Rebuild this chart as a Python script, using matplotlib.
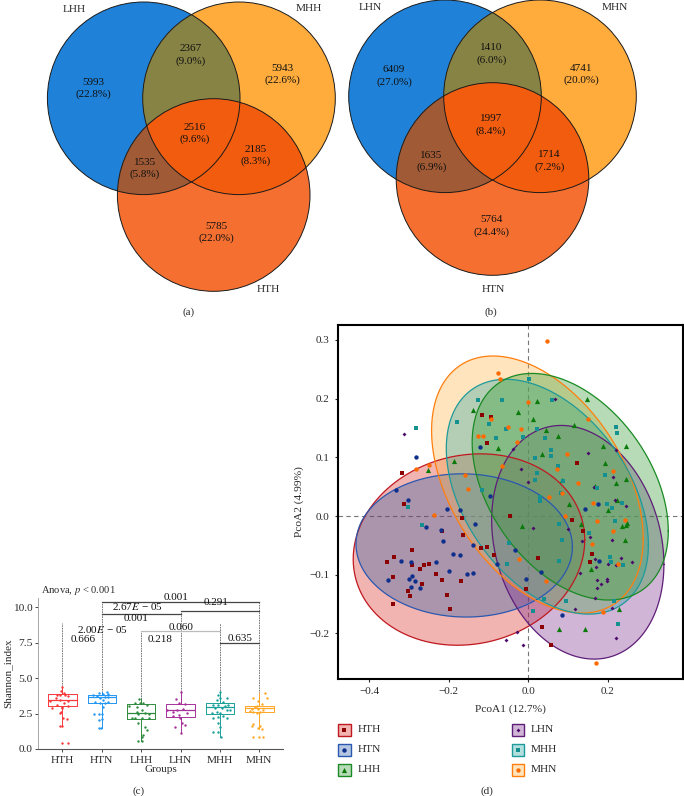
import numpy as np
import matplotlib
matplotlib.use('Agg')
import matplotlib.pyplot as plt
from matplotlib.patches import Circle, Rectangle

plt.rcParams['font.family'] = ['Liberation Serif', 'DejaVu Serif']
plt.rcParams['mathtext.fontset'] = 'stix'

TEXT = '#2b2b2b'

# ---- venn data
venn_a_sets = ['LHH', 'MHH', 'HTH']
venn_a_vals = ['5993\n(22.8%)', '2367\n(9.0%)', '5943\n(22.6%)', '2516\n(9.6%)',
               '2185\n(8.3%)', '1535\n(5.8%)', '5785\n(22.0%)']
venn_b_sets = ['LHN', 'MHN', 'HTN']
venn_b_vals = ['6409\n(27.0%)', '1410\n(6.0%)', '4741\n(20.0%)', '1997\n(8.4%)',
               '1714\n(7.2%)', '1635\n(6.9%)', '5764\n(24.4%)']

# ---- shannon data
groups = ['HTH', 'HTN', 'LHH', 'LHN', 'MHH', 'MHN']
box_q1 = [3.01, 3.22, 2.09, 2.28, 2.49, 2.61]
box_med = [3.46, 3.70, 2.56, 2.73, 2.96, 2.89]
box_q3 = [3.86, 3.79, 3.15, 3.20, 3.22, 3.04]
box_lo = [1.65, 1.51, 0.56, 1.15, 0.87, 1.39]
box_hi = [4.35, 4.00, 3.55, 4.05, 4.00, 3.93]

sh_off = {
    'HTH': [0, -.03, .05, -.14, -.06, .08, -.16, .15, -.06, -.31, .15, .04, -.02, -.14, .14, -.27, 0, -.06, -.03, .11, .03, -.06, -.01, 0, .15],
    'HTN': [.13, -.06, .04, .17, -.21, -.13, .08, -.04, .17, .04, -.17, -.04, .08, .17, .02, -.08, 0, -.19, 0, -.06, -.08, -.02],
    'LHH': [-.05, .06, -.03, -.15, .14, -.32, -.11, .02, -.11, -.07, .10, .19, -.24, -.15, .02, .19, -.07, .10, .14, .06, .02, -.09, .02],
    'LHN': [0, -.11, -.05, .12, -.35, -.18, -.09, .06, .16, -.03, -.19, -.01, .03, .12, -.14, .01],
    'MHH': [0, -.04, 0, .17, -.08, .08, -.17, -.04, .13, .21, -.13, .04, .17, -.08, .25, 0, -.21, .08, -.04, .17, -.17, -.04, 0, -.17, -.04, .02],
    'MHN': [.14, -.15, .19, -.03, -.07, .06, -.11, -.19, -.03, .02, -.15, .10, -.24, -.07, -.15, -.19, .02, -.03, .06, -.17, 0, .10],
}
sh_val = {
    'HTH': [4.35, 4.12, 3.93, 3.81, 3.81, 3.81, 3.58, 3.74, 3.46, 3.39, 3.39, 3.27, 2.99, 3.11, 3.06, 2.92, 2.87, 2.52, 2.64, 2.12, 2.16, 1.65, 1.65, .45, .45],
    'HTN': [4.0, 3.93, 3.88, 3.88, 3.81, 3.74, 3.69, 3.62, 3.65, 3.46, 3.34, 3.27, 3.27, 3.29, 2.99, 2.47, 2.45, 2.47, 2.12, 2.05, 1.51, 1.51],
    'LHH': [3.55, 3.27, 3.22, 3.22, 3.11, 3.04, 2.94, 2.75, 2.64, 2.47, 2.56, 2.47, 2.16, 2.16, 2.16, 2.21, 1.81, 1.58, 1.34, .99, .87, .56, .56],
    'LHN': [4.05, 3.51, 3.22, 3.15, 2.75, 2.64, 2.75, 2.80, 2.52, 2.40, 2.33, 2.16, 1.81, 1.69, 1.58, 1.15],
    'MHH': [4.0, 3.81, 3.58, 3.62, 3.46, 3.34, 3.11, 3.11, 3.04, 3.11, 2.87, 2.87, 2.75, 2.64, 2.75, 2.52, 2.56, 2.35, 2.28, 2.16, 2.16, 1.81, 1.58, 1.18, 1.18, .87],
    'MHN': [3.93, 3.58, 3.58, 3.41, 3.04, 3.18, 2.99, 2.80, 2.80, 2.64, 2.64, 2.75, 2.71, 2.52, 1.76, 1.65, 1.65, 1.46, 1.39, .87, .87, .87],
}

# bracket: from group, to group, height, colour
bracket_from = [1, 1, 3, 2, 4]
bracket_to = [5, 3, 5, 4, 5]
bracket_y = [10.35, 9.55, 9.74, 8.30, 7.46]
bracket_col = ['#444444', '#444444', '#444444', '#bbbbbb', '#444444']
p_labels = ['0.001', r'2.67$\mathit{E}$ − 05', '0.291', '0.001', '0.060',
            r'2.00$\mathit{E}$ − 05', '0.218', '0.666', '0.635']
p_x = [2.89, 1.91, 3.91, 1.88, 3.01, 1.02, 2.49, 0.54, 4.51]
p_y = [10.70, 10.09, 10.35, 9.22, 8.58, 8.42, 7.76, 7.76, 7.81]

# ---- pcoa data
pc_x = {
    'HTH': [-.116, -.093, -.103, -.318, .123, -.313, -.046, -.167, .110, .138, -.218, -.163, -.292, -.118, -.104, -.085, .024, -.354, -.337, -.292, -.261, -.250, -.272, -.233, -.340, -.218, -.268, -.170, -.303, -.297, -.203, -.339, -.197, -.006, .160, .155, .034, .056],
    'HTN': [-.283, -.121, -.332, -.303, -.096, -.205, -.171, -.133, -.256, -.220, -.215, -.138, .142, .175, -.189, -.172, -.319, -.295, -.232, -.079, -.034, -.198, -.292, -.153, -.138, -.300, -.285, -.353, -.294, -.271, .032, -.005, .177, .086],
    'LHH': [-.139, .023, .148, -.025, .012, -.076, .044, .076, .116, .189, .245, .035, -.186, -.252, .194, .084, .221, .245, .167, .222, .103, .200, .248, .236, .246, .243, -.015, .132, .158, .228, .078, .143],
    'LHN': [-.312, .066, -.039, -.017, 0, .150, .212, .165, .220, .245, .219, .012, .101, .135, .155, .211, .168, .233, .260, .201, .170, .220, .131, .173, .199, .199, .182, .173, .167, .118, .210, -.055, -.028, -.014, .220],
    'MHH': [.003, -.127, -.066, .059, -.178, -.099, -.056, -.081, -.013, .021, .043, .057, .058, .016, -.281, .220, .222, .075, .021, .018, .088, .193, .174, -.117, .082, .029, .029, -.303, .197, .210, .236, .217, -.267, .078, .153, .084, -.048, .078, -.054, .205, .209, .239, .039, .096, .215, .013, .225],
    'MHN': [.047, -.076, -.070, 0, -.094, -.052, -.018, -.127, -.114, .149, -.029, .098, -.283, -.250, -.065, .073, -.158, -.152, .124, .053, .084, .214, .163, -.237, .092, .172, .243, .213, .159, -.023, .044, .225, .189, .170],
}
pc_y = {
    'HTH': [.172, .169, .124, .073, .091, .020, 0, -.003, -.007, -.026, -.025, -.033, -.058, -.054, -.052, -.067, -.072, -.078, -.070, -.084, -.083, -.082, -.090, -.098, -.103, -.109, -.116, -.110, -.127, -.136, -.134, -.149, -.158, -.125, -.064, -.078, -.189, -.219],
    'HTN': [.100, .118, .044, .028, .035, .012, .010, -.014, -.018, -.023, -.043, -.049, .012, .021, -.065, -.066, -.077, -.078, -.078, -.081, -.058, -.093, -.102, -.099, -.097, -.107, -.111, -.109, -.120, -.123, -.096, -.108, -.076, -.168],
    'LHH': [.181, .196, .199, .177, .166, .116, .147, .136, .155, .119, .119, .105, .094, .078, .091, .062, .057, .063, .052, .028, .020, .010, -.011, -.017, -.015, -.041, -.017, -.014, -.090, -.158, -.193, -.193],
    'LHN': [.140, .200, .114, .081, .058, .107, .066, .049, .112, .018, .027, -.020, -.022, -.043, -.035, -.040, -.073, -.072, -.078, -.082, -.087, -.083, -.097, -.109, -.108, -.111, -.116, -.122, -.139, -.158, -.156, -.211, -.197, -.220, -.207],
    'MHH': [.233, .198, .197, .198, .161, .157, .149, .133, .135, .148, .133, .113, .102, .099, .150, .152, .141, .086, .073, .062, .060, .070, .047, .045, .039, .032, .026, .015, .020, .014, .022, -.009, -.015, -.014, -.029, -.041, -.045, -.076, -.081, -.070, -.078, -.083, -.141, -.144, -.144, -.161, -.183],
    'MHN': [.299, .243, .233, .195, .166, .152, .149, .136, .136, .165, .126, .106, .080, .087, .086, .080, .070, .046, .057, .032, .039, .077, .022, .002, 0, -.008, -.006, -.026, -.047, -.073, -.111, -.082, -.164, -.250],
}

# ellipse: centre, half extents, correlation
ell_cx = {'HTH': -.149, 'HTN': -.161, 'LHH': .1055, 'LHN': .1245, 'MHH': .048, 'MHN': .023}
ell_cy = {'HTH': -.057, 'HTN': -.050, 'LHH': .050, 'LHN': -.0446, 'MHH': .033, 'MHN': .0537}
ell_hx = {'HTH': .291, 'HTN': .272, 'LHH': .2465, 'LHN': .2165, 'MHH': .254, 'MHN': .266}
ell_hy = {'HTH': .163, 'HTN': .122, 'LHH': .193, 'LHN': .199, 'MHH': .200, 'MHN': .219}
ell_rho = {'HTH': .10, 'HTN': -.02, 'LHH': -.39, 'LHN': -.19, 'MHH': -.41, 'MHN': -.42}

# ---- styles
box_cols = {'HTH': '#f8383a', 'HTN': '#2196f3', 'LHH': '#2e8b3e', 'LHN': '#a6309a', 'MHH': '#1aa098', 'MHN': '#ffa726'}
edge_cols = {'HTH': '#c01820', 'HTN': '#2a58b0', 'LHH': '#1a8a24', 'LHN': '#5e1e78', 'MHH': '#1e9a9a', 'MHN': '#ff7f0e'}
fill_cols = {'HTH': '#d7281e', 'HTN': '#2a5caa', 'LHH': '#2e9a2e', 'LHN': '#7b2d8e', 'MHH': '#2aa5a5', 'MHN': '#ffb347'}
dot_cols = {'HTH': '#8b0000', 'HTN': '#0e2f8b', 'LHH': '#0a7a0a', 'LHN': '#4b0b6b', 'MHH': '#159090', 'MHN': '#ff6a00'}
markers = {'HTH': 's', 'HTN': 'o', 'LHH': '^', 'LHN': 'D', 'MHH': 's', 'MHN': 'o'}
msize = {'HTH': 9, 'HTN': 10, 'LHH': 14, 'LHN': 4, 'MHH': 9, 'MHN': 10}

W, H = 684, 796
fig = plt.figure(figsize=(W / 100, H / 100), dpi=100)


def px_axes(left, right, top, bottom):
    return fig.add_axes([left / W, 1 - bottom / H, (right - left) / W, (bottom - top) / H])


# overlay in pixels, for venns, captions and legend keys
ov = fig.add_axes([0, 0, 1, 1])
ov.set_xlim(0, W)
ov.set_ylim(H, 0)
ov.axis('off')


def venn(c1, c2, c3, r, names, vals, val_pos, name_pos):
    colors = ['#1f82d8', '#ffac3c', '#f57030']
    circles = [c1, c2, c3]
    for c, col in zip(circles, colors):
        ov.add_patch(Circle(c, r, fc=col, ec='none'))
    for a, b, col in [(0, 1, '#878344'), (0, 2, '#a05a35'), (1, 2, '#f25c0e')]:
        clip = Circle(circles[a], r, transform=ov.transData)
        p = Circle(circles[b], r, fc=col, ec='none')
        ov.add_patch(p)
        p.set_clip_path(clip)
    for c in circles:
        ov.add_patch(Circle(c, r, fc='none', ec='#1a1a1a', lw=0.7))
    for v, p in zip(vals, val_pos):
        ov.text(p[0], p[1], v, ha='center', va='center', fontsize=8, color='#111111', linespacing=1.35)
    for n, p in zip(names, name_pos):
        ov.text(p[0], p[1], n, ha='center', va='center', fontsize=8.2, color=TEXT)


venn((143.7, 98.3), (239, 98.3), (213.7, 195), 96.3, venn_a_sets, venn_a_vals,
     [(93.7, 88.5), (190.3, 55), (282.3, 74.5), (194.3, 133.3), (255.7, 155.7), (144.7, 168.3), (216.7, 232.7)],
     [(74.7, 9.7), (308.7, 8.3), (268.3, 289.3)])
venn((445, 96.3), (540, 96.3), (492.5, 179), 96.3, venn_b_sets, venn_b_vals,
     [(394, 76), (491.3, 54), (581.3, 74.3), (491, 125), (549.3, 161), (431.3, 161.7), (491.3, 226)],
     [(370, 8), (614.7, 8), (493.3, 289.3)])

for s, x, y in [('(a)', 189, 311.7), ('(b)', 490.7, 311.7), ('(c)', 139, 790.7), ('(d)', 487, 790.7)]:
    ov.text(x, y, s, ha='center', va='center', fontsize=8, color=TEXT)

# ---- panel c
ax = px_axes(38, 283, 598, 749)
ax.set_xlim(-0.617, 5.6)
ax.set_ylim(0, 10.66)
ax.patch.set_alpha(0)
stats = []
for i, g in enumerate(groups):
    stats.append(dict(med=box_med[i], q1=box_q1[i], q3=box_q3[i], whislo=box_lo[i], whishi=box_hi[i], fliers=[]))
    st = ax.bxp([stats[i]], positions=[i], widths=0.72, showcaps=False, showfliers=False,
                boxprops=dict(color=box_cols[g], lw=0.7), medianprops=dict(color=box_cols[g], lw=0.9),
                whiskerprops=dict(color=box_cols[g], lw=0.7), manage_ticks=False)
    ax.scatter(i + np.array(sh_off[g]), sh_val[g], s=3, color=box_cols[g], lw=0, zorder=3)

# dashed drops from the brackets
drop_top = [8.9, 10.35, 8.30, 9.74, 8.9, 10.35]
for i in range(6):
    ax.plot([i, i], [box_q3[i], drop_top[i]], color='#666666', lw=0.6, ls=(0, (2, 1)), zorder=1)
for a, b, y, c in zip(bracket_from, bracket_to, bracket_y, bracket_col):
    ax.plot([a, b], [y, y], color=c, lw=0.9, clip_on=False)
for s, x, y in zip(p_labels, p_x, p_y):
    ax.text(x, y, s, ha='center', va='center', fontsize=8, color='#111111', clip_on=False, zorder=5)
ax.text(-0.55, 11.2, 'Anova, $\\mathit{p}$ < 0.001', ha='left', va='center', fontsize=7.6, color=TEXT)

ax.set_xticks(range(6))
ax.set_xticklabels(groups)
ax.set_yticks([0, 2.5, 5, 7.5, 10])
ax.set_yticklabels(['0.0', '2.5', '5.0', '7.5', '10.0'])
ax.tick_params(labelsize=8.2, length=2, width=0.6, pad=2, colors=TEXT)
ax.tick_params(axis='x', pad=3)
ax.set_xlabel('Groups', fontsize=8, color=TEXT, labelpad=0)
ax.set_ylabel('Shannon_index', fontsize=8, color=TEXT, labelpad=0)
for s in ['top', 'right']:
    ax.spines[s].set_visible(False)
ax.spines['left'].set_color('#999999')
ax.spines['left'].set_linewidth(0.6)
ax.spines['bottom'].set_color('#555555')
ax.spines['bottom'].set_linewidth(0.8)

# ---- panel d
bx = px_axes(337.7, 683, 324.7, 678.7)
bx.set_xlim(-0.479, 0.389)
bx.set_ylim(-0.277, 0.326)
bx.axhline(0, color='#777777', lw=0.8, ls=(0, (4, 3)), zorder=1)
bx.axvline(0, color='#777777', lw=0.8, ls=(0, (4, 3)), zorder=1)
t = np.linspace(0, 2 * np.pi, 300)
# fills stack in this order, green ends up on top
for z, g in enumerate(['HTH', 'HTN', 'LHN', 'MHN', 'MHH', 'LHH']):
    r = ell_rho[g]
    ex = ell_cx[g] + ell_hx[g] * np.cos(t)
    ey = ell_cy[g] + ell_hy[g] * (r * np.cos(t) + np.sqrt(1 - r * r) * np.sin(t))
    bx.fill(ex, ey, color=fill_cols[g], alpha=0.35, lw=0, zorder=2 + z * 0.01)
    bx.plot(ex, ey, color=edge_cols[g], lw=0.9, zorder=3)
for g in groups:
    bx.scatter(pc_x[g], pc_y[g], s=msize[g], marker=markers[g], color=dot_cols[g], lw=0, zorder=4)
bx.set_xticks([-0.4, -0.2, 0, 0.2])
bx.set_xticklabels(['−0.4', '−0.2', '0.0', '0.2'])
bx.set_yticks([-0.2, -0.1, 0, 0.1, 0.2, 0.3])
bx.set_yticklabels(['−0.2', '−0.1', '0.0', '0.1', '0.2', '0.3'])
bx.tick_params(labelsize=8, length=2, width=0.8, pad=4, colors=TEXT)
bx.set_xlabel('PcoA1 (12.7%)', fontsize=8.2, color=TEXT, labelpad=6)
bx.set_ylabel('PcoA2 (4.99%)', fontsize=8.2, color=TEXT, labelpad=4)
for s in bx.spines.values():
    s.set_linewidth(1.5)
    s.set_color('black')

# legend keys
rows = [729.7, 749.7, 769.7, 729.7, 749.7, 769.7]
cols = [344.3, 344.3, 344.3, 517.7, 517.7, 517.7]
text_x = [358, 358, 358, 531, 531, 531]
for g, ky, kx, tx in zip(groups, rows, cols, text_x):
    ov.add_patch(Rectangle((kx - 6.2, ky - 6.2), 12.4, 12.4, fc=fill_cols[g], alpha=0.35, ec='none'))
    ov.add_patch(Rectangle((kx - 6.2, ky - 6.2), 12.4, 12.4, fc='none', ec=edge_cols[g], lw=1.0))
    ov.scatter([kx], [ky], s=msize[g], marker=markers[g], color=dot_cols[g], lw=0)
    ov.text(tx, ky, g, ha='left', va='center', fontsize=8.2, color=TEXT)

fig.savefig('out.png', dpi=100)
